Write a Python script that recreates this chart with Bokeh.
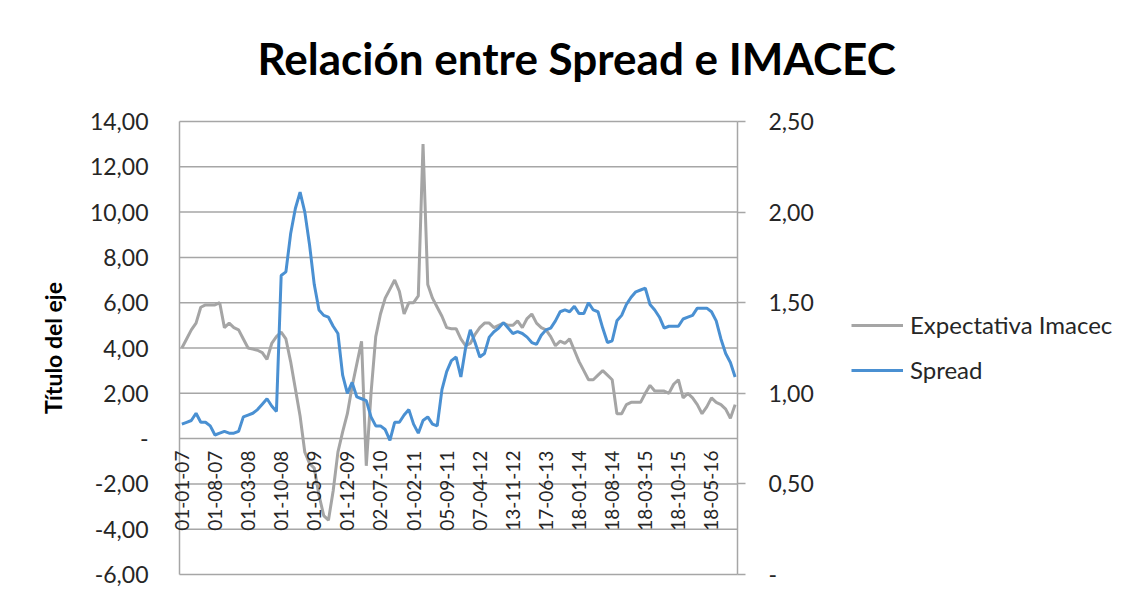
import math
from bokeh.plotting import figure
from bokeh.models import Range1d, LinearAxis, FixedTicker, Legend, LegendItem
from bokeh.embed import file_html
from bokeh.resources import INLINE

# ---- data ----
date_labels = ["01-01-07", "01-08-07", "01-03-08", "01-10-08", "01-05-09", "01-12-09",
               "02-07-10", "01-02-11", "05-09-11", "07-04-12", "13-11-12", "17-06-13",
               "18-01-14", "18-08-14", "18-03-15", "18-10-15", "18-05-16"]
label_step = 7

imacec = [4.0, 4.4, 4.8, 5.1, 5.8, 5.9, 5.9, 5.9, 6.0, 4.9,
          5.1, 4.9, 4.8, 4.4, 4.0, 3.95, 3.9, 3.8, 3.5, 4.2,
          4.5, 4.7, 4.4, 3.4, 2.2, 1.0, -0.6, -1.1, -1.3, -2.5,
          -3.4, -3.6, -2.3, -0.6, 0.3, 1.1, 2.3, 3.3, 4.3, -1.2,
          2.0, 4.5, 5.5, 6.2, 6.6, 7.0, 6.5, 5.5, 6.0, 6.0,
          6.3, 13.0, 6.8, 6.2, 5.8, 5.4, 4.9, 4.85, 4.85, 4.4,
          4.1, 4.2, 4.6, 4.9, 5.1, 5.1, 4.9, 5.0, 5.1, 5.0,
          5.0, 5.2, 4.9, 5.3, 5.5, 5.1, 4.9, 4.8, 4.5, 4.1,
          4.3, 4.2, 4.4, 3.9, 3.4, 3.0, 2.6, 2.6, 2.8, 3.0,
          2.8, 2.6, 1.1, 1.1, 1.5, 1.6, 1.6, 1.6, 2.0, 2.35,
          2.1, 2.1, 2.1, 2.0, 2.4, 2.6, 1.8, 2.0, 1.8, 1.5,
          1.1, 1.4, 1.8, 1.6, 1.5, 1.3, 0.9, 1.5]

spread = [0.83, 0.84, 0.85, 0.89, 0.84, 0.84, 0.82, 0.77, 0.78, 0.79,
          0.78, 0.78, 0.79, 0.87, 0.88, 0.89, 0.91, 0.94, 0.97, 0.93,
          0.90, 1.65, 1.67, 1.88, 2.02, 2.11, 2.00, 1.82, 1.60, 1.46,
          1.43, 1.42, 1.37, 1.33, 1.10, 1.00, 1.06, 0.98, 0.97, 0.96,
          0.87, 0.82, 0.82, 0.80, 0.74, 0.84, 0.84, 0.88, 0.91, 0.83,
          0.78, 0.85, 0.87, 0.83, 0.82, 1.02, 1.12, 1.18, 1.20, 1.09,
          1.25, 1.35, 1.28, 1.20, 1.22, 1.31, 1.34, 1.36, 1.39, 1.36,
          1.33, 1.34, 1.33, 1.31, 1.28, 1.27, 1.32, 1.35, 1.36, 1.40,
          1.45, 1.46, 1.45, 1.48, 1.44, 1.44, 1.50, 1.46, 1.45, 1.36,
          1.28, 1.29, 1.40, 1.43, 1.49, 1.53, 1.56, 1.57, 1.58, 1.49,
          1.46, 1.42, 1.36, 1.37, 1.37, 1.37, 1.41, 1.42, 1.43, 1.47,
          1.47, 1.47, 1.45, 1.40, 1.30, 1.22, 1.17, 1.09]

left_ticks = [-6, -4, -2, 0, 2, 4, 6, 8, 10, 12, 14]
left_labels = ["-6,00", "-4,00", "-2,00", "-", "2,00", "4,00", "6,00", "8,00", "10,00", "12,00", "14,00"]
right_ticks = [0, 0.5, 1.0, 1.5, 2.0, 2.5]
right_labels = ["-", "0,50", "1,00", "1,50", "2,00", "2,50"]

title_text = "Relación entre Spread e IMACEC"
y_title = "Título del eje"
series_names = ["Expectativa Imacec", "Spread"]

GRAY = "#a5a5a5"
BLUE = "#4a90d2"
GRID = "#a6a6a6"
FONT = "Lato"
TXT = "#262626"

# ---- layout (pixels) ----
W, H = 1127, 597
PLOT_LEFT, PLOT_TOP = 179, 121      # data area corners
PLOT_W, PLOT_H = 558, 453           # data area size
PAD_X, PAD_Y = 10, 18               # extra frame room so edge labels are not clipped

n = len(imacec)
xs = list(range(n))
x0_data, x1_data = -0.5, n - 0.5
ux = n / PLOT_W                      # data units per px (x)
frame_left = PLOT_LEFT - PAD_X
x_range = Range1d(x0_data - PAD_X * ux, x0_data + (W - frame_left - PAD_X) * ux)

y_lo, y_hi = left_ticks[0], left_ticks[-1]
uy = (y_hi - y_lo) / PLOT_H
y_range = Range1d(y_lo - PAD_Y * uy, y_hi + PAD_Y * uy)
r_lo, r_hi = right_ticks[0], right_ticks[-1]
k = (r_hi - r_lo) / (y_hi - y_lo)
spread_range = Range1d(r_lo + (y_range.start - y_lo) * k, r_lo + (y_range.end - y_lo) * k)

p = figure(width=W, height=H, output_backend="svg", toolbar_location=None,
           x_range=x_range, y_range=y_range,
           min_border_left=frame_left, min_border_right=0,
           min_border_top=PLOT_TOP - PAD_Y, min_border_bottom=H - (PLOT_TOP + PLOT_H + PAD_Y),
           title=title_text)
p.background_fill_color = "white"
p.border_fill_color = "white"
p.outline_line_color = None

p.title.text_font = FONT
p.title.text_font_size = "44px"
p.title.text_font_style = "bold"
p.title.text_color = "black"
p.title.align = "left"
p.title.offset = 78 + PAD_X
p.title.standoff = 39

# gridlines and the left axis line, limited to the data area
p.xgrid.grid_line_color = None
p.ygrid.grid_line_color = None
p.segment(x0=[x0_data] * len(left_ticks), x1=[x1_data] * len(left_ticks),
          y0=left_ticks, y1=left_ticks, line_color=GRID, line_width=1.5)
p.segment(x0=[x0_data], x1=[x0_data], y0=[y_lo], y1=[y_hi], line_color=GRID, line_width=1.5)

# left axis (labels only)
ya = p.yaxis[0]
ya.ticker = FixedTicker(ticks=left_ticks)
ya.major_label_overrides = {t: l for t, l in zip(left_ticks, left_labels)}
ya.major_tick_out = 0
ya.major_tick_in = 0
ya.major_tick_line_color = None
ya.minor_tick_line_color = None
ya.axis_line_color = None
ya.major_label_text_font = FONT
ya.major_label_text_font_size = "23px"
ya.major_label_text_color = TXT
ya.major_label_standoff = 31 - PAD_X
ya.axis_label = y_title
ya.axis_label_text_font = FONT
ya.axis_label_text_font_size = "23px"
ya.axis_label_text_font_style = "bold"
ya.axis_label_text_color = "black"
ya.axis_label_standoff = 20

# x axis at zero
xa = p.xaxis[0]
xa.fixed_location = 0
xa.ticker = FixedTicker(ticks=[i * label_step for i in range(len(date_labels))])
xa.major_label_overrides = {i * label_step: d for i, d in enumerate(date_labels)}
xa.major_label_orientation = math.pi / 2
xa.major_label_text_font = FONT
xa.major_label_text_font_size = "19px"
xa.major_label_text_color = TXT
xa.major_label_standoff = 6
xa.axis_line_color = None
xa.major_tick_line_color = None
xa.minor_tick_line_color = None

# right axis, placed at the end of the data area
p.extra_y_ranges = {"spread": spread_range}
ra = LinearAxis(y_range_name="spread", ticker=FixedTicker(ticks=right_ticks),
                fixed_location=x1_data, bounds=(r_lo, r_hi))
ra.major_label_overrides = {t: l for t, l in zip(right_ticks, right_labels)}
ra.axis_line_color = GRID
ra.axis_line_width = 1.5
ra.major_tick_line_color = GRID
ra.major_tick_line_width = 1.5
ra.major_tick_out = 8
ra.major_tick_in = 0
ra.minor_tick_line_color = None
ra.major_label_text_font = FONT
ra.major_label_text_font_size = "23px"
ra.major_label_text_color = TXT
ra.major_label_standoff = 23
p.add_layout(ra, "right")

r1 = p.line(xs, imacec, line_color=GRAY, line_width=3)
r2 = p.line(xs, spread, line_color=BLUE, line_width=3, y_range_name="spread")

legend = Legend(items=[LegendItem(label=series_names[0], renderers=[r1]),
                       LegendItem(label=series_names[1], renderers=[r2])],
                location=(682, 208))
legend.border_line_color = None
legend.background_fill_alpha = 0
legend.padding = 0
legend.margin = 0
legend.spacing = 16
legend.glyph_width = 52
legend.glyph_height = 24
legend.label_height = 24
legend.label_standoff = 7
legend.label_text_font = FONT
legend.label_text_font_size = "24px"
legend.label_text_color = TXT
p.add_layout(legend, "center")

open("out.html", "w").write(file_html(p, INLINE))
